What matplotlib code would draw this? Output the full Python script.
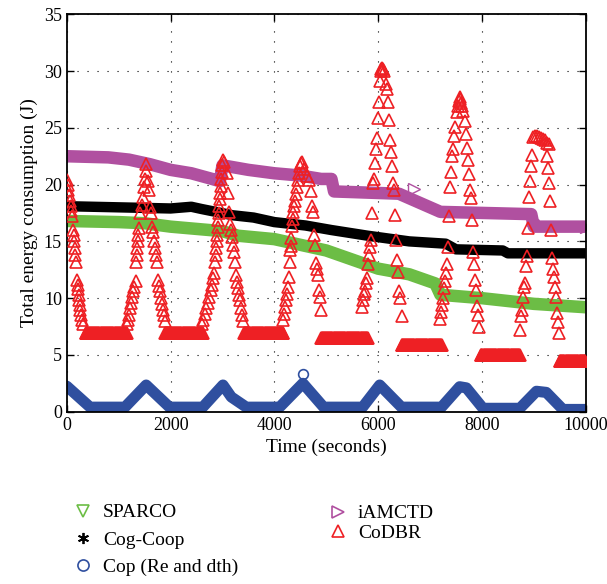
import numpy as np
import matplotlib
matplotlib.use("Agg")
import matplotlib.pyplot as plt

plt.rcParams['font.family'] = ['Liberation Serif', 'DejaVu Serif']
plt.rcParams['font.size'] = 14

# colours of the five schemes
c_sparco = '#6cbd45'
c_cog = '#000000'
c_cop = '#2f4f9f'
c_iam = '#b050a0'
c_codbr = '#ee2024'

# SPARCO (J) along time (s)
sparco_t = [0, 1000, 1500, 2000, 3000, 3300, 4000, 4500, 5000, 5500, 6000, 6600, 7100, 7200, 8000, 9000, 10000]
sparco_e = [16.8, 16.7, 16.6, 16.3, 15.9, 15.5, 15.2, 14.7, 14.2, 13.4, 12.6, 12.1, 11.3, 10.3, 10.0, 9.5, 9.2]

# Cog-Coop
cog_t = [0, 1000, 2000, 2400, 2600, 3200, 3600, 4000, 4600, 5100, 5800, 6600, 7300, 7500, 8400, 8500, 10000]
cog_e = [18.1, 18.0, 17.9, 18.05, 17.85, 17.3, 17.1, 16.7, 16.4, 16.0, 15.5, 15.0, 14.8, 14.3, 14.2, 13.95, 13.95]

# Cop (Re and dth)
cop_t = [0, 450, 1120, 1530, 1980, 2620, 3010, 3170, 3460, 4100, 4550, 4950, 5700, 6030, 6450,
         7220, 7570, 7700, 8020, 8730, 9050, 9240, 9560, 10000]
cop_e = [2.25, 0.4, 0.4, 2.35, 0.4, 0.4, 2.35, 1.3, 0.4, 0.4, 2.5, 0.4, 0.4, 2.35, 0.4,
         0.4, 2.2, 2.1, 0.3, 0.3, 1.8, 1.7, 0.2, 0.2]
cop_out_t = [4550]
cop_out_e = [3.3]

# iAMCTD
iam_t = [0, 800, 1200, 1600, 2000, 2400, 2800, 2950, 3000, 3500, 4000, 4500, 4900, 5100, 5150,
         6400, 6700, 7200, 8950, 9000, 10000]
iam_e = [22.5, 22.4, 22.2, 21.8, 21.3, 21.0, 20.5, 20.3, 21.7, 21.3, 21.0, 20.8, 20.5, 20.5, 19.4,
         19.2, 18.6, 17.6, 17.4, 16.3, 16.3]
iam_out_t = [6700, 8980]
iam_out_e = [19.6, 16.9]

# CoDBR: bursts of high consumption
codbr_t = [
    # burst at 0 s
    0, 15, 30, 45, 60, 75, 90, 105, 120, 130, 140, 150, 160, 175, 200, 210, 220, 230, 240, 250, 260, 275, 290, 310,
    # burst at 1500 s
    1160, 1180, 1200, 1220, 1240, 1260, 1280, 1300, 1330, 1340, 1350, 1360, 1370, 1380, 1400, 1420, 1440, 1460,
    1480, 1500, 1520, 1530,
    1560, 1580, 1600, 1620, 1640, 1660, 1680, 1700, 1720, 1740, 1760, 1780, 1800, 1820, 1840, 1860, 1880, 1900,
    # burst at 3000 s
    2600, 2630, 2660, 2690, 2720, 2750, 2780, 2800, 2820, 2840, 2860, 2870, 2880, 2890, 2900, 2910, 2920, 2930,
    2940, 2950, 2960, 2970, 2980, 2990, 3000, 3010, 3030,
    3080, 3100, 3120, 3140, 3160, 3180, 3200, 3220, 3240, 3260, 3280, 3300, 3320, 3340, 3360, 3380, 3400,
    # burst at 4550 s
    4160, 4180, 4200, 4220, 4240, 4260, 4280, 4300, 4310, 4320, 4330, 4340, 4350, 4360, 4380, 4400, 4420, 4440,
    4460, 4480, 4500, 4520, 4540,
    4580, 4620, 4660, 4700, 4720, 4740, 4760, 4780, 4800, 4820, 4840, 4860, 4880, 4900,
    # burst at 6100 s
    5680, 5700, 5720, 5740, 5760, 5780, 5800, 5820, 5840, 5860, 5880, 5900, 5920, 5940, 5960, 5980, 6000, 6020,
    6040, 6060, 6050, 6070, 6090, 6110,
    6150, 6170, 6190, 6210, 6230, 6250, 6270, 6290, 6310, 6330, 6350, 6370, 6390, 6410, 6430, 6450,
    # burst at 7600 s
    7190, 7210, 7230, 7250, 7270, 7290, 7310, 7330, 7350, 7370, 7390, 7410, 7430, 7450, 7470, 7490, 7510, 7530,
    7550, 7570, 7580, 7600, 7620, 7640,
    7670, 7690, 7710, 7730, 7750, 7770, 7790, 7810, 7830, 7850, 7870, 7890, 7910, 7930, 7950,
    # burst at 9100 s
    8730, 8750, 8770, 8790, 8810, 8830, 8850, 8870, 8890, 8910, 8930, 8950,
    8960, 8980, 9020, 9060, 9100, 9140, 9180, 9220, 9260, 9300,
    9250, 9270, 9290, 9310, 9330, 9350, 9370, 9390, 9410, 9430, 9450, 9470, 9490,
]
codbr_e = [
    20.4, 20.0, 19.5, 19.1, 18.6, 18.1, 17.7, 17.2, 16.0, 15.6, 15.0, 14.4, 13.8, 13.2, 11.6, 11.2, 10.8, 10.3,
    9.8, 9.4, 9.0, 8.5, 8.1, 7.7,
    7.7, 8.1, 8.5, 9.1, 9.6, 10.1, 10.6, 11.0, 11.5, 13.2, 13.8, 14.4, 15.0, 15.6, 16.2, 17.5, 18.2, 18.9,
    19.8, 20.5, 21.2, 21.8,
    20.3, 19.5, 18.0, 17.5, 16.3, 15.8, 15.0, 14.4, 13.8, 13.2, 11.6, 11.1, 10.6, 10.0, 9.5, 9.0, 8.5, 8.0,
    7.7, 8.1, 8.6, 9.1, 9.6, 10.1, 10.7, 11.2, 11.8, 12.2, 13.2, 13.8, 14.4, 15.0, 15.6, 16.3, 16.9, 17.5,
    18.1, 18.7, 19.3, 19.9, 20.5, 21.1, 21.7, 22.2, 22.0,
    21.0, 19.3, 17.6, 16.5, 16.0, 15.4, 14.7, 14.1, 13.2, 12.0, 11.4, 10.9, 10.3, 9.8, 9.1, 8.5, 8.0,
    8.1, 8.6, 9.2, 9.8, 10.4, 11.0, 11.9, 13.2, 14.2, 14.6, 15.3, 16.4, 17.0, 17.6, 18.1, 18.6, 19.2, 19.8,
    20.4, 21.0, 21.6, 21.9, 22.0,
    21.4, 20.8, 20.4, 19.4, 18.1, 17.6, 15.6, 14.7, 13.1, 12.6, 12.0, 10.7, 10.1, 9.0,
    9.2, 9.8, 10.4, 10.6, 11.3, 11.8, 13.0, 13.8, 14.5, 15.1, 17.5, 20.1, 20.5, 21.9, 23.1, 24.1, 25.9, 27.3,
    29.1, 30.0, 30.2, 30.3, 30.2, 30.0,
    28.9, 28.4, 27.3, 25.7, 23.9, 22.9, 21.6, 20.1, 19.5, 17.3, 15.1, 13.4, 12.3, 10.6, 10.0, 8.4,
    8.2, 8.8, 9.4, 10.0, 10.9, 11.5, 12.2, 13.0, 14.5, 17.2, 19.8, 21.1, 22.5, 23.1, 24.3, 25.1, 26.4, 26.9,
    27.4, 27.7, 27.5, 27.2, 26.9, 26.5,
    25.6, 24.5, 23.2, 22.2, 20.9, 19.5, 18.8, 16.9, 14.1, 13.0, 11.6, 10.7, 9.3, 8.5, 7.5,
    7.2, 8.4, 9.0, 10.1, 11.0, 11.3, 12.8, 13.7, 16.2, 18.9, 20.3, 21.6,
    22.6, 24.2, 24.3, 24.3, 24.2, 24.1, 24.0, 23.9, 23.7, 23.6,
    22.5, 21.5, 20.1, 18.6, 16.0, 13.5, 12.6, 11.9, 11.0, 10.1, 8.7, 7.9, 6.9,
]

# CoDBR quiet periods: constant consumption, one sample every 10 s
flat_start = [370, 1900, 3420, 4900, 6450, 7980, 9500]
flat_end = [1160, 2620, 4170, 5800, 7230, 8730, 9990]
flat_level = [6.9, 6.9, 6.9, 6.5, 5.9, 5.0, 4.45]

fig, ax = plt.subplots(figsize=(6.07, 5.84), dpi=100)
fig.subplots_adjust(left=0.110, right=0.965, top=0.9755, bottom=0.295)

ax.plot(sparco_t, sparco_e, color=c_sparco, lw=9, solid_capstyle='butt', zorder=2)
ax.plot(cog_t, cog_e, color=c_cog, lw=7.5, solid_capstyle='butt', zorder=2)
ax.plot(cop_t, cop_e, color=c_cop, lw=8, solid_capstyle='round', solid_joinstyle='round', zorder=2)
ax.plot(cop_out_t, cop_out_e, 'o', ms=7, mfc='none', mec=c_cop, mew=1.2, zorder=2)
ax.plot(iam_t, iam_e, color=c_iam, lw=9, solid_capstyle='butt', zorder=2)
ax.plot(iam_t[-1:], iam_e[-1:], '>', ms=9, color=c_iam, zorder=2)
ax.plot(iam_out_t, iam_out_e, '>', ms=8, mfc='none', mec=c_iam, mew=1.0, zorder=2)

for s, e, lvl in zip(flat_start, flat_end, flat_level):
    t = np.arange(s, e + 1, 10)
    ax.plot(t, np.full(len(t), lvl), '^', ms=8.5, mfc='none', mec=c_codbr, mew=1.2, zorder=3)
ax.plot(codbr_t, codbr_e, '^', ms=8.5, mfc='none', mec=c_codbr, mew=1.2, zorder=3)

ax.set_xlim(0, 10000)
ax.set_ylim(0, 35)
ax.set_xticks(range(0, 10001, 2000))
ax.set_yticks(range(0, 36, 5))
ax.tick_params(direction='in', length=5, width=1, top=True, right=True, labelsize=13)
ax.grid(True, color='black', linestyle=(0, (1, 8)), linewidth=0.8)
for sp in ax.spines.values():
    sp.set_linewidth(1.3)
ax.set_xlabel('Time (seconds)', fontsize=14)
ax.set_ylabel('Total energy consumption (J)', fontsize=14)

# legend proxies
h_sparco, = ax.plot([], [], 'v', ms=8, mfc='none', mec=c_sparco, mew=1.2, label='SPARCO')
h_cog, = ax.plot([], [], marker=(6, 2, 0), ls='none', ms=8, mec=c_cog, mew=1.3, label='Cog-Coop')
h_cop, = ax.plot([], [], 'o', ms=8, mfc='none', mec=c_cop, mew=1.2, label='Cop (Re and dth)')
h_iam, = ax.plot([], [], '>', ms=8, mfc='none', mec=c_iam, mew=1.2, label='iAMCTD')
h_codbr, = ax.plot([], [], '^', ms=8, mfc='none', mec=c_codbr, mew=1.2, label='CoDBR')

leg1 = fig.legend(handles=[h_sparco, h_cog, h_cop], loc='upper left', bbox_to_anchor=(64 / 607, 1 - 494 / 584),
                  frameon=False, handlelength=1.0, handletextpad=0.5, labelspacing=0.5, borderpad=0, fontsize=14)
leg2 = fig.legend(handles=[h_iam, h_codbr], loc='upper left', bbox_to_anchor=(319 / 607, 1 - 495 / 584),
                  frameon=False, handlelength=1.0, handletextpad=0.5, labelspacing=0.08, borderpad=0, fontsize=14)

fig.savefig('out.png', dpi=100)
